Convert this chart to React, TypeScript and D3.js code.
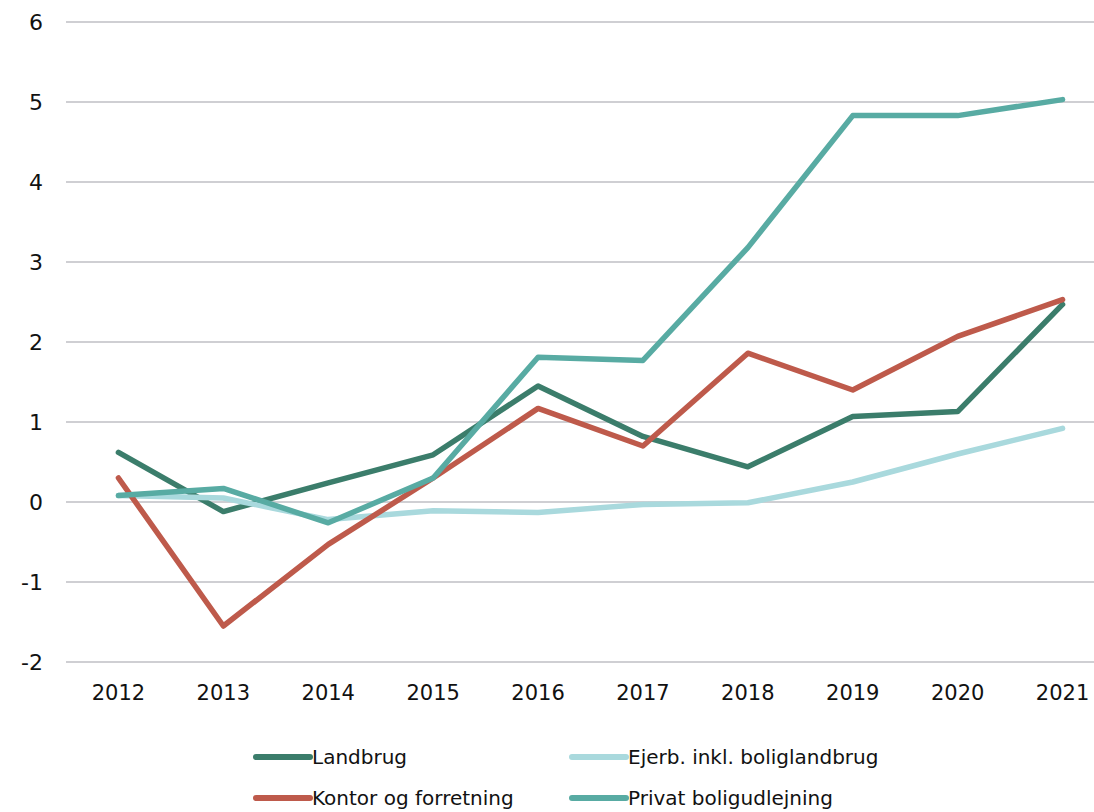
import React, { useRef, useEffect } from "react";
import * as d3 from "d3";

const years = ["2012", "2013", "2014", "2015", "2016", "2017", "2018", "2019", "2020", "2021"];
const landbrug = [0.62, -0.12, 0.24, 0.59, 1.45, 0.82, 0.44, 1.07, 1.13, 2.47];
const ejerbolig = [0.08, 0.05, -0.22, -0.11, -0.13, -0.03, -0.01, 0.25, 0.6, 0.92];
const kontor = [0.3, -1.55, -0.53, 0.3, 1.17, 0.7, 1.86, 1.4, 2.07, 2.53];
const privat = [0.08, 0.17, -0.26, 0.3, 1.81, 1.77, 3.18, 4.83, 4.83, 5.03];
const yTicks = [-2, -1, 0, 1, 2, 3, 4, 5, 6];

const series = [
  { name: "Landbrug", values: landbrug, color: "#3b7d6b" },
  { name: "Ejerb. inkl. boliglandbrug", values: ejerbolig, color: "#a9d9dd" },
  { name: "Kontor og forretning", values: kontor, color: "#be5a4b" },
  { name: "Privat boligudlejning", values: privat, color: "#58aba3" },
];

const font = "'Century Gothic', 'DejaVu Sans', sans-serif";

function App() {
  const svgRef = useRef<SVGSVGElement>(null);

  useEffect(() => {
    const svg = d3.select(svgRef.current);
    svg.selectAll("*").remove();

    //scales
    const x = d3.scaleBand().domain(years).range([66, 1115]);
    const y = d3.scaleLinear().domain([-2, 6]).range([662, 22]);

    // grid
    svg.append("g")
      .selectAll("line")
      .data(yTicks)
      .join("line")
      .attr("x1", 66)
      .attr("x2", 1094)
      .attr("y1", d => y(d))
      .attr("y2", d => y(d))
      .attr("stroke", "#bfbfc4")
      .attr("stroke-width", 1.5);

    // y labels
    svg.append("g")
      .selectAll("text")
      .data(yTicks)
      .join("text")
      .attr("x", 43)
      .attr("y", d => y(d))
      .attr("dy", "0.36em")
      .attr("text-anchor", "end")
      .attr("font-family", font)
      .attr("font-size", 22)
      .attr("fill", "#111")
      .text(d => d);

    // x labels
    svg.append("g")
      .selectAll("text")
      .data(years)
      .join("text")
      .attr("x", d => x(d)! + x.bandwidth() / 2)
      .attr("y", 700)
      .attr("text-anchor", "middle")
      .attr("font-family", font)
      .attr("font-size", 21)
      .attr("fill", "#111")
      .text(d => d);

    const line = d3.line<number>()
      .x((d, i) => x(years[i])! + x.bandwidth() / 2)
      .y(d => y(d));

    svg.append("g")
      .selectAll("path")
      .data(series)
      .join("path")
      .attr("d", s => line(s.values))
      .attr("fill", "none")
      .attr("stroke", s => s.color)
      .attr("stroke-width", 5.5)
      .attr("stroke-linecap", "round")
      .attr("stroke-linejoin", "round");

    // legend
    const legendPos = [
      [256, 757], [572, 757], [256, 798], [572, 798],
    ];
    const legend = svg.append("g")
      .selectAll("g")
      .data(series)
      .join("g")
      .attr("transform", (d, i) => `translate(${legendPos[i][0]},${legendPos[i][1]})`);
    legend.append("line")
      .attr("x1", 0)
      .attr("x2", 54)
      .attr("stroke", s => s.color)
      .attr("stroke-width", 6)
      .attr("stroke-linecap", "round");
    legend.append("text")
      .attr("x", 56)
      .attr("dy", "0.36em")
      .attr("font-family", font)
      .attr("font-size", 20)
      .attr("fill", "#111")
      .text(s => s.name);
  }, []);

  return (
    <svg ref={svgRef} width={1094} height={812}
      style={{ position: "absolute", left: 0, top: 0, background: "#fff" }} />
  );
}

export default App;
